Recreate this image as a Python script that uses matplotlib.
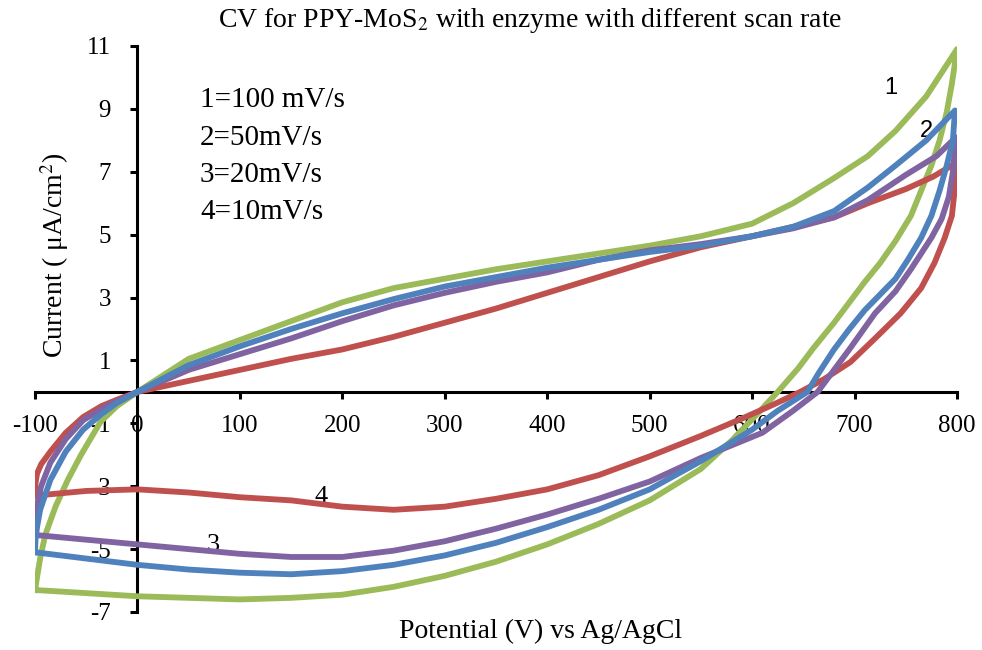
import matplotlib
matplotlib.use("Agg")
import matplotlib.pyplot as plt

plt.rcParams['font.family'] = ['Liberation Serif', 'DejaVu Serif']
plt.rcParams['mathtext.fontset'] = 'stix'
plt.rcParams['axes.unicode_minus'] = False

# scan rate loops: forward branch from -100 to 800 mV, then back to -100
x_100 = [-100, -98, -95, -90, -80, -68, -55, -36, -20, 0, 50, 100, 150, 200, 250, 300, 350, 400, 450, 500,
         550, 600, 640, 680, 713, 740, 770, 800,
         795, 790, 783, 775, 765, 755, 740, 725, 710, 695, 680, 660, 645, 625, 605, 580, 550, 500, 450,
         400, 350, 300, 250, 200, 150, 100, 50, 0, -50, -100]
y_100 = [-6.3, -5.9, -5.3, -4.55, -3.65, -2.8, -2.0, -0.95, -0.45, 0.0, 1.05, 1.65, 2.25, 2.85, 3.3, 3.6, 3.9, 4.15, 4.4, 4.65,
         4.95, 5.35, 6.0, 6.8, 7.5, 8.3, 9.4, 10.9,
         9.8, 8.9, 8.0, 7.2, 6.4, 5.6, 4.8, 4.1, 3.5, 2.85, 2.2, 1.4, 0.75, 0.0, -0.7, -1.55, -2.45, -3.45, -4.2,
         -4.85, -5.4, -5.85, -6.2, -6.45, -6.55, -6.6, -6.55, -6.5, -6.4, -6.3]

x_50 = [-100, -99.5, -98, -95, -85, -70, -53, -35, -20, 0, 50, 100, 150, 200, 250, 300, 350, 400, 450, 500,
        550, 600, 640, 680, 713, 740, 770, 798,
        796, 790, 783, 775, 765, 752, 740, 725, 710, 695, 680, 665, 654, 625, 600, 550, 500, 450,
        400, 350, 300, 250, 200, 150, 100, 50, 0, -50, -100]
y_50 = [-5.1, -4.7, -4.3, -3.75, -2.8, -1.9, -1.2, -0.7, -0.35, 0.0, 0.85, 1.45, 2.0, 2.5, 2.95, 3.35, 3.65, 3.95, 4.2, 4.45,
        4.65, 4.95, 5.25, 5.75, 6.5, 7.2, 8.0, 8.95,
        8.0, 7.2, 6.4, 5.6, 4.9, 4.2, 3.6, 3.1, 2.6, 2.0, 1.35, 0.6, 0.0, -0.6, -1.2, -2.2, -3.1, -3.75,
        -4.3, -4.8, -5.2, -5.5, -5.7, -5.8, -5.75, -5.65, -5.5, -5.3, -5.1]

x_20 = [-100, -99.5, -98, -94, -85, -70, -53, -30, 0, 50, 100, 150, 200, 250, 300, 350, 400, 450, 500,
        550, 600, 640, 680, 713, 750, 780, 799,
        796, 792, 785, 775, 765, 755, 740, 720, 696, 680, 664, 640, 610, 550, 500, 450,
        400, 350, 300, 250, 200, 150, 100, 50, 0, -50, -100]
y_20 = [-4.55, -4.1, -3.6, -3.0, -2.25, -1.5, -0.9, -0.45, 0.0, 0.7, 1.2, 1.7, 2.25, 2.75, 3.15, 3.5, 3.8, 4.2, 4.5,
        4.7, 4.95, 5.2, 5.55, 6.1, 6.9, 7.5, 8.1,
        7.0, 6.2, 5.5, 4.9, 4.4, 3.9, 3.2, 2.5, 1.4, 0.7, 0.0, -0.6, -1.3, -2.1, -2.85, -3.4,
        -3.9, -4.35, -4.75, -5.05, -5.25, -5.25, -5.15, -5.0, -4.85, -4.7, -4.55]

x_10 = [-100, -99.5, -98, -94, -85, -70, -53, -35, -20, 0, 50, 100, 150, 200, 250, 300, 350, 400, 450, 500,
        550, 600, 640, 680, 713, 750, 777, 800,
        798, 795, 788, 778, 765, 745, 720, 696, 670, 647, 621, 590, 550, 500, 450,
        400, 350, 300, 250, 200, 150, 100, 50, 0, -50, -100]
y_10 = [-3.3, -2.9, -2.6, -2.3, -1.9, -1.3, -0.8, -0.45, -0.25, 0.0, 0.35, 0.7, 1.05, 1.35, 1.75, 2.2, 2.65, 3.15, 3.65, 4.15,
        4.6, 4.95, 5.25, 5.55, 6.0, 6.45, 6.85, 7.3,
        6.5, 5.6, 4.9, 4.1, 3.3, 2.5, 1.7, 0.95, 0.4, 0.0, -0.4, -0.85, -1.4, -2.05, -2.65,
        -3.1, -3.4, -3.65, -3.75, -3.65, -3.45, -3.35, -3.2, -3.1, -3.15, -3.3]

legend_lines = ["1=100 mV/s", "2=50mV/s", "3=20mV/s", "4=10mV/s"]

fig = plt.figure(figsize=(9.82, 6.5), dpi=100)
ax = fig.add_axes([35/982, 38/650, 922/982, 566/650])

lw = 4.2
ax.plot(x_100, y_100, color='#9BBB59', lw=lw, zorder=3)
ax.plot(x_10, y_10, color='#C0504D', lw=lw, zorder=3)
ax.plot(x_20, y_20, color='#8064A2', lw=lw, zorder=3)
ax.plot(x_50, y_50, color='#4F81BD', lw=lw, zorder=3)

ax.set_xlim(-100, 800)
ax.set_ylim(-7, 11)
ax.set_xticks(range(-100, 801, 100))
ax.set_yticks(range(-7, 12, 2))

for s in ['top', 'right']:
    ax.spines[s].set_visible(False)
ax.spines['left'].set_position(('data', 0))
ax.spines['bottom'].set_position(('data', 0))
ax.spines['left'].set_linewidth(2.2)
ax.spines['bottom'].set_linewidth(2.2)
ax.tick_params(axis='x', direction='out', length=5, width=2.2, pad=12, labelsize=18)
ax.tick_params(axis='y', direction='out', length=5, width=2.2, pad=14, labelsize=18)

for i, t in enumerate(legend_lines):
    ax.text(61, 9.28 - i * 1.19, t, fontsize=21, va='center', ha='left')

ax.text(735, 9.67, "1", fontsize=17, family='Liberation Sans', ha='center', va='center', zorder=1)
ax.text(770, 8.3, "2", fontsize=17, family='Liberation Sans', ha='center', va='center', zorder=1)
ax.text(74, -4.86, "3", fontsize=19, ha='center', va='center', zorder=1)
ax.text(179, -3.34, "4", fontsize=19, ha='center', va='center', zorder=1)

fig.text(0.54, 0.969, "CV for PPY-MoS$_2$ with enzyme with different scan rate",
         fontsize=20, ha='center', va='center')
fig.text(0.55, 0.028, "Potential (V) vs Ag/AgCl", fontsize=20, ha='center', va='center')
fig.text(0.056, 0.608, "Current ( \u03bcA/cm$^2$)", fontsize=20, ha='center', va='center', rotation=90)

fig.savefig("out.png", dpi=100)
